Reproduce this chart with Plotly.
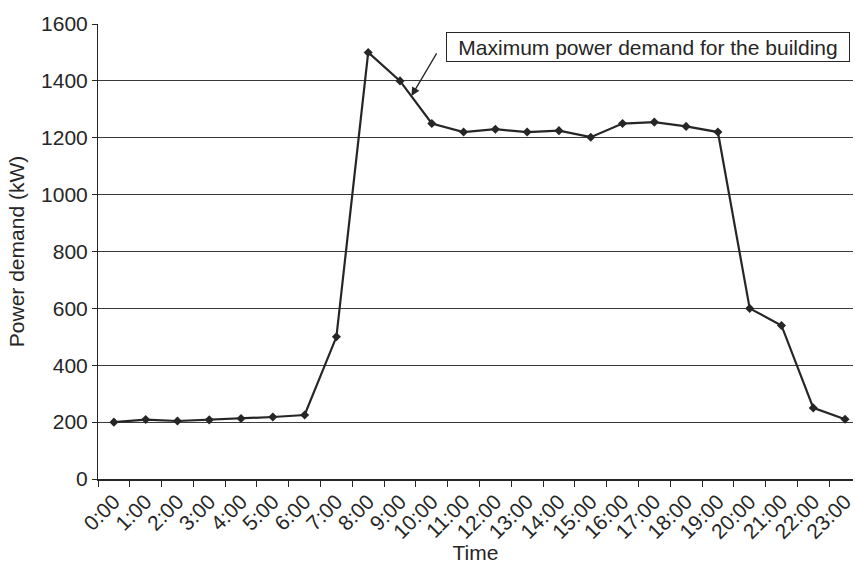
import plotly.graph_objects as go

# Hourly building power demand profile
times = [f"{h}:00" for h in range(24)]
demand_kw = [200, 209, 204, 208, 213, 218, 225, 500, 1500, 1400, 1250, 1220,
             1230, 1220, 1225, 1202, 1250, 1255, 1240, 1220, 600, 540, 250, 210]

y_ticks = [0, 200, 400, 600, 800, 1000, 1200, 1400, 1600]

note_text = "Maximum power demand for the building"

FONT = "Liberation Sans, Arial, sans-serif"
INK = "#262626"
FS = 21

fig = go.Figure()
fig.add_trace(go.Scatter(
    x=times,
    y=demand_kw,
    mode="lines+markers",
    line=dict(color=INK, width=2.2),
    marker=dict(symbol="diamond", size=7, color=INK),
    showlegend=False,
    cliponaxis=False,
))

# Callout box
fig.add_annotation(
    x=16.8, y=1520, xref="x", yref="y",
    text=note_text, showarrow=False,
    font=dict(family=FONT, size=FS, color=INK),
    width=402, height=28, align="center",
    bgcolor="white", bordercolor=INK, borderwidth=1, borderpad=0,
)
# Arrow pointing at the peak section of the curve
fig.add_annotation(
    x=9.36, y=1347, xref="x", yref="y",
    ax=10.18, ay=1502, axref="x", ayref="y",
    text="", showarrow=True,
    arrowhead=2, arrowsize=1.3, arrowwidth=1.3, arrowcolor=INK,
)

fig.update_layout(
    width=855, height=564,
    margin=dict(l=98, r=0, t=24, b=84),
    paper_bgcolor="white", plot_bgcolor="white",
    font=dict(family=FONT, size=FS, color=INK),
    xaxis=dict(
        type="category",
        categoryorder="array", categoryarray=times,
        range=[-0.5, 23.25],
        tickson="boundaries",
        ticks="outside", ticklen=6, tickwidth=1, tickcolor=INK,
        tickangle=-45,
        tickfont=dict(family=FONT, size=FS, color=INK),
        showgrid=False,
        showline=True, linecolor=INK, linewidth=2,
        title=dict(text="Time", font=dict(family=FONT, size=FS, color=INK), standoff=6),
        zeroline=False,
    ),
    yaxis=dict(
        range=[0, 1600],
        tickvals=y_ticks,
        ticks="outside", ticklen=5, tickwidth=1, tickcolor=INK,
        tickfont=dict(family=FONT, size=FS, color=INK),
        showgrid=True, gridcolor="#3a3a3a", gridwidth=1,
        showline=True, linecolor=INK, linewidth=1,
        zeroline=False,
        title=dict(text="Power demand (kW)", font=dict(family=FONT, size=FS, color=INK), standoff=10),
    ),
)

fig.write_html("out.html")
